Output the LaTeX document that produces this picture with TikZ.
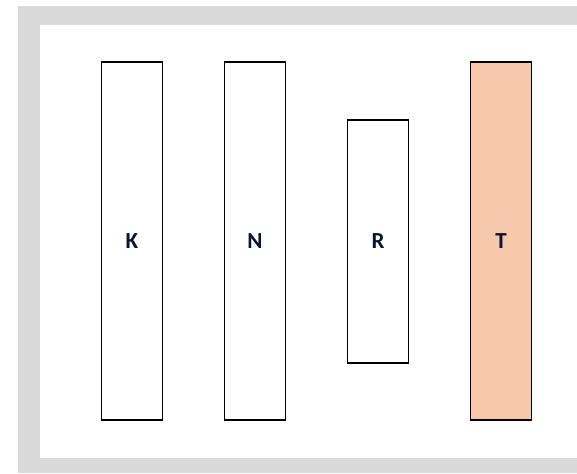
\documentclass[tikz,border=0pt]{standalone}
\usepackage{fontspec}
\setmainfont{Carlito}
\definecolor{framegrey}{HTML}{D9D9D9}
\definecolor{peach}{HTML}{F7C8AA}
\definecolor{labelnavy}{HTML}{0A1630}
\begin{document}
\begin{tikzpicture}[x=1pt,y=-1pt,
  bar/.style={draw=black, line width=1.5pt, fill=white, minimum width=61pt, inner sep=0pt, font=\fontsize{23}{27}\selectfont\bfseries, text=labelnavy},
]
\useasboundingbox (0,0) rectangle (577,473);
\fill[framegrey] (18,6) rectangle (577,473);
\fill[white] (40,25) rectangle (577,458);
\node[bar, minimum height=358pt] (K) at (132,241) {K};
\node[bar, minimum height=358pt] (N) at (255,241) {N};
\node[bar, minimum height=243pt] (R) at (378,241.5) {R};
\node[bar, minimum height=358pt, fill=peach] (T) at (501,241) {T};
\end{tikzpicture}
\end{document}
